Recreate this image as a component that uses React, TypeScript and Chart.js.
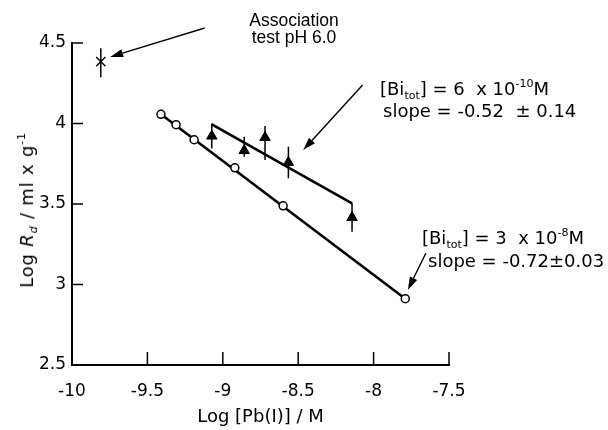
import React, { useEffect, useRef } from "react";
import { Chart, registerables } from "chart.js";
Chart.register(...registerables);

// ---- axes ----
const xTickValues = [-10, -9.5, -9, -8.5, -8, -7.5];
const xTickLabels = ["-10", "-9.5", "-9", "-8.5", "-8", "-7.5"];
const yTickValues = [2.5, 3, 3.5, 4, 4.5];
const yTickLabels = ["2.5", "3", "3.5", "4", "4.5"];

// ---- [Bi_tot] = 3 x 10^-8 M (open circles) ----
const circleX = [-9.41, -9.31, -9.19, -8.92, -8.6, -7.79];
const circleY = [4.057, 3.993, 3.899, 3.725, 3.489, 2.912];
const circleFitX = [-9.41, -7.79];
const circleFitY = [4.057, 2.912];

// ---- [Bi_tot] = 6 x 10^-10 M (filled triangles, with error bars) ----
const triX = [-9.073, -8.858, -8.72, -8.565, -8.143];
const triY = [3.922, 3.832, 3.913, 3.758, 3.416];
const triHi = [4.0, 3.918, 3.984, 3.856, 3.504];
const triLo = [3.845, 3.794, 3.773, 3.66, 3.328];
const triFitX = [-9.073, -8.143];
const triFitY = [3.995, 3.504];

// ---- association test pH 6.0 ----
const assocX = [-9.809];
const assocY = [4.384];
const assocHi = [4.467];
const assocLo = [4.287];

// ---- annotation arrows (data units: [x, y]) ----
const arrowFrom = [
  [-9.12, 4.593],
  [-8.073, 4.239],
  [-7.653, 3.196],
];
const arrowTo = [
  [-9.747, 4.413],
  [-8.467, 3.835],
  [-7.773, 2.966],
];

const pts = (xs: number[], ys: number[]) => xs.map((v, i) => ({ x: v, y: ys[i] }));

const decorPlugin = {
  id: "decor",
  beforeDatasetsDraw(chart: any) {
    const { ctx, scales } = chart;
    const x = scales.x;
    const y = scales.y;
    ctx.save();
    ctx.strokeStyle = "#000";
    ctx.lineWidth = 1.5;
    const groups: [number[], number[], number[]][] = [
      [triX, triHi, triLo],
      [assocX, assocHi, assocLo],
    ];
    groups.forEach(([xs, his, los]) => {
      xs.forEach((v, i) => {
        const px = x.getPixelForValue(v);
        ctx.beginPath();
        ctx.moveTo(px, y.getPixelForValue(his[i]));
        ctx.lineTo(px, y.getPixelForValue(los[i]));
        ctx.stroke();
      });
    });
    ctx.restore();
  },
  afterDraw(chart: any) {
    const { ctx, scales, chartArea } = chart;
    const x = scales.x;
    const y = scales.y;
    ctx.save();
    ctx.strokeStyle = "#000";
    ctx.lineWidth = 1.5;
    // inward tick marks
    xTickValues.forEach((v) => {
      if (v === xTickValues[0]) return;
      const px = x.getPixelForValue(v);
      ctx.beginPath();
      ctx.moveTo(px, chartArea.bottom);
      ctx.lineTo(px, chartArea.bottom - 13);
      ctx.stroke();
    });
    yTickValues.forEach((v) => {
      if (v === yTickValues[0]) return;
      const py = y.getPixelForValue(v);
      ctx.beginPath();
      ctx.moveTo(chartArea.left, py);
      ctx.lineTo(chartArea.left + 11, py);
      ctx.stroke();
    });
    // arrows
    ctx.lineWidth = 1.4;
    ctx.fillStyle = "#000";
    arrowFrom.forEach((f, i) => {
      const t = arrowTo[i];
      const x0 = x.getPixelForValue(f[0]);
      const y0 = y.getPixelForValue(f[1]);
      const x1 = x.getPixelForValue(t[0]);
      const y1 = y.getPixelForValue(t[1]);
      const ang = Math.atan2(y1 - y0, x1 - x0);
      const L = 13;
      const W = 4;
      const bx = x1 - L * Math.cos(ang);
      const by = y1 - L * Math.sin(ang);
      ctx.beginPath();
      ctx.moveTo(x0, y0);
      ctx.lineTo(bx, by);
      ctx.stroke();
      ctx.beginPath();
      ctx.moveTo(x1, y1);
      ctx.lineTo(bx + W * Math.sin(ang), by - W * Math.cos(ang));
      ctx.lineTo(bx - W * Math.sin(ang), by + W * Math.cos(ang));
      ctx.closePath();
      ctx.fill();
    });
    ctx.restore();
  },
};

export default function App() {
  const ref = useRef<HTMLCanvasElement>(null);
  useEffect(() => {
    const canvas = ref.current;
    if (!canvas) return;
    const tickFont = { family: "'DejaVu Sans', sans-serif", size: 17 };
    const chart = new Chart(canvas, {
      type: "scatter",
      data: {
        datasets: [
          {
            data: pts(assocX, assocY),
            pointStyle: "crossRot",
            pointRadius: 6.5,
            pointBorderColor: "#000",
            pointBorderWidth: 1.4,
            showLine: false,
          },
          {
            data: pts(circleX, circleY),
            pointStyle: "circle",
            pointRadius: 4,
            pointBackgroundColor: "#fff",
            pointBorderColor: "#000",
            pointBorderWidth: 1.5,
            showLine: false,
          },
          {
            data: pts(triX, triY),
            pointStyle: "triangle",
            pointRadius: 6,
            pointBackgroundColor: "#000",
            pointBorderColor: "#000",
            pointBorderWidth: 1,
            showLine: false,
          },
          {
            data: pts(circleFitX, circleFitY),
            showLine: true,
            borderColor: "#000",
            borderWidth: 2.6,
            pointRadius: 0,
          },
          {
            data: pts(triFitX, triFitY),
            showLine: true,
            borderColor: "#000",
            borderWidth: 2.6,
            pointRadius: 0,
          },
        ],
      } as any,
      options: {
        responsive: false,
        animation: false,
        devicePixelRatio: 1,
        layout: { padding: { left: 0, right: 159, top: 43, bottom: 0 } },
        plugins: { legend: { display: false }, tooltip: { enabled: false } },
        scales: {
          x: {
            type: "linear",
            min: -10,
            max: -7.5,
            afterBuildTicks: (s: any) => {
              s.ticks = xTickValues.map((v) => ({ value: v }));
            },
            afterFit: (s: any) => {
              s.height = 65;
            },
            ticks: {
              color: "#000",
              font: tickFont,
              padding: 16,
              maxRotation: 0,
              autoSkip: false,
              callback: (v: any) => {
                const i = xTickValues.indexOf(Number(v));
                return i >= 0 ? xTickLabels[i] : "";
              },
            },
            grid: { display: false, drawTicks: false },
            border: { display: true, color: "#000", width: 2 },
            title: {
              display: true,
              text: "Log [Pb(I)] / M",
              color: "#000",
              font: { family: "'DejaVu Sans', sans-serif", size: 18 },
              padding: { top: 0, bottom: 2 },
            },
          },
          y: {
            type: "linear",
            min: 2.5,
            max: 4.5,
            afterBuildTicks: (s: any) => {
              s.ticks = yTickValues.map((v) => ({ value: v }));
            },
            afterFit: (s: any) => {
              s.width = 72;
            },
            ticks: {
              color: "#000",
              font: tickFont,
              padding: 6,
              autoSkip: false,
              callback: (v: any) => {
                const i = yTickValues.indexOf(Number(v));
                return i >= 0 ? yTickLabels[i] : "";
              },
            },
            grid: { display: false, drawTicks: false },
            border: { display: true, color: "#000", width: 2 },
          },
        },
      } as any,
      plugins: [decorPlugin],
    });
    return () => chart.destroy();
  }, []);

  const dv = "'DejaVu Sans', sans-serif";
  const sub: React.CSSProperties = { fontSize: 11, lineHeight: 0, position: "relative", top: 4, verticalAlign: "baseline" };
  const sup: React.CSSProperties = { fontSize: 11, lineHeight: 0, position: "relative", top: -8, verticalAlign: "baseline" };
  const line: React.CSSProperties = { position: "absolute", whiteSpace: "nowrap", lineHeight: "20px", color: "#000" };

  return (
    <div style={{ position: "fixed", left: 0, top: 0, width: 608, height: 430, background: "#fff", overflow: "hidden" }}>
      <canvas ref={ref} width={608} height={430} style={{ position: "absolute", left: 0, top: 0, width: 608, height: 430 }} />
      {/* y-axis title */}
      <div
        style={{
          position: "absolute",
          left: 27,
          top: 210,
          transform: "translate(-50%, -50%) rotate(-90deg)",
          whiteSpace: "nowrap",
          fontFamily: dv,
          fontSize: 18,
          lineHeight: "22px",
          letterSpacing: 0.8,
          color: "#000",
        }}
      >
        Log <i>R</i>
        <span style={{ ...sub, fontStyle: "italic" }}>d</span> / ml x g<span style={sup}>-1</span>
      </div>
      {/* Association test */}
      <div style={{ ...line, left: 244, width: 100, textAlign: "center", top: 12, fontFamily: "'Liberation Sans', Arial, sans-serif", fontSize: 17.5, lineHeight: "16.5px" }}>
        Association
        <br />
        test pH 6.0
      </div>
      {/* Bi 6e-10 */}
      <div style={{ ...line, left: 380, top: 79, fontFamily: dv, fontSize: 18 }}>
        [Bi<span style={sub}>tot</span>] = 6&nbsp; x 10<span style={sup}>-10</span>M
      </div>
      <div style={{ ...line, left: 383, top: 101, fontFamily: dv, fontSize: 18 }}>
        slope = -0.52&nbsp; ± 0.14
      </div>
      {/* Bi 3e-8 */}
      <div style={{ ...line, left: 422, top: 228, fontFamily: dv, fontSize: 18 }}>
        [Bi<span style={sub}>tot</span>] = 3&nbsp; x 10<span style={sup}>-8</span>M
      </div>
      <div style={{ ...line, left: 428, top: 251, fontFamily: dv, fontSize: 18 }}>
        slope = -0.72±0.03
      </div>
    </div>
  );
}
